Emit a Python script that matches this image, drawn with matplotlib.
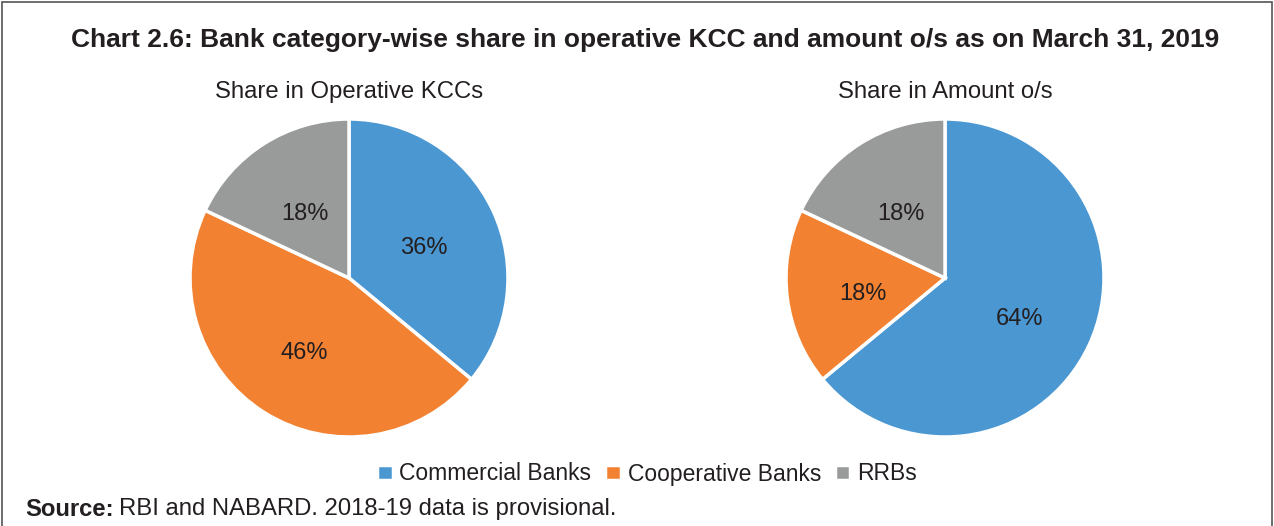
import matplotlib
matplotlib.use("Agg")
import matplotlib.pyplot as plt
from matplotlib.patches import Rectangle

plt.rcParams['font.family'] = ['Liberation Sans', 'DejaVu Sans']

# data
categories = ["Commercial Banks", "Cooperative Banks", "RRBs"]
kcc_share = [36, 46, 18]
amount_share = [64, 18, 18]
colors = ["#4B97D2", "#F28232", "#999B9B"]
txt = "#231F20"

W, H = 1274, 526
fig = plt.figure(figsize=(W / 100, H / 100), dpi=100)

# frame around the chart (open at the bottom)
fig.patches.append(Rectangle((2 / W, -0.1), 1 - 4.5 / W, 1.1 - 2 / H, transform=fig.transFigure,
                             fill=False, edgecolor="#555555", linewidth=1.2))

fig.text(645 / W, 1 - 40 / H,
         "Chart 2.6: Bank category-wise share in operative KCC and amount o/s as on March 31, 2019",
         ha="center", va="center", fontsize=19, fontweight="bold", color=txt)


def draw_pie(cx, cy, r, values, title):
    ax = fig.add_axes([(cx - r) / W, (H - cy - r) / H, 2 * r / W, 2 * r / H])
    wedges, _, autotexts = ax.pie(values, colors=colors, startangle=90, counterclock=False,
                                  autopct="%d%%", pctdistance=0.52,
                                  wedgeprops=dict(edgecolor="white", linewidth=2.5),
                                  textprops=dict(fontsize=17, color=txt))
    for t in autotexts:
        x, y = t.get_position()
        t.set_position((x, y - 0.035))
    ax.set_xlim(-1, 1)
    ax.set_ylim(-1, 1)
    ax.set_aspect("equal")
    fig.text(cx / W, 1 - 92 / H, title, ha="center", va="center", fontsize=17.2, color=txt)
    return wedges


wedges = draw_pie(349, 278, 159, kcc_share, "Share in Operative KCCs")
draw_pie(945, 278, 159, amount_share, "Share in Amount o/s")

fig.legend(wedges, categories, loc="center", bbox_to_anchor=(647 / W, 1 - 474 / H), ncol=3,
           frameon=False, fontsize=16.5, handlelength=0.68, handleheight=0.68,
           handletextpad=0.3, columnspacing=0.6, labelcolor=txt)

src = fig.text(25 / W, 1 - 509 / H, "Source:", ha="left", va="center", fontsize=17.2,
               fontweight="bold", color=txt)
renderer = fig.canvas.get_renderer()
bb = src.get_window_extent(renderer)
fig.text(bb.x1 / W + 5 / W, 1 - 509 / H, "RBI and NABARD. 2018-19 data is provisional.",
         ha="left", va="center", fontsize=17.2, color=txt)

fig.savefig("out.png", dpi=100)
